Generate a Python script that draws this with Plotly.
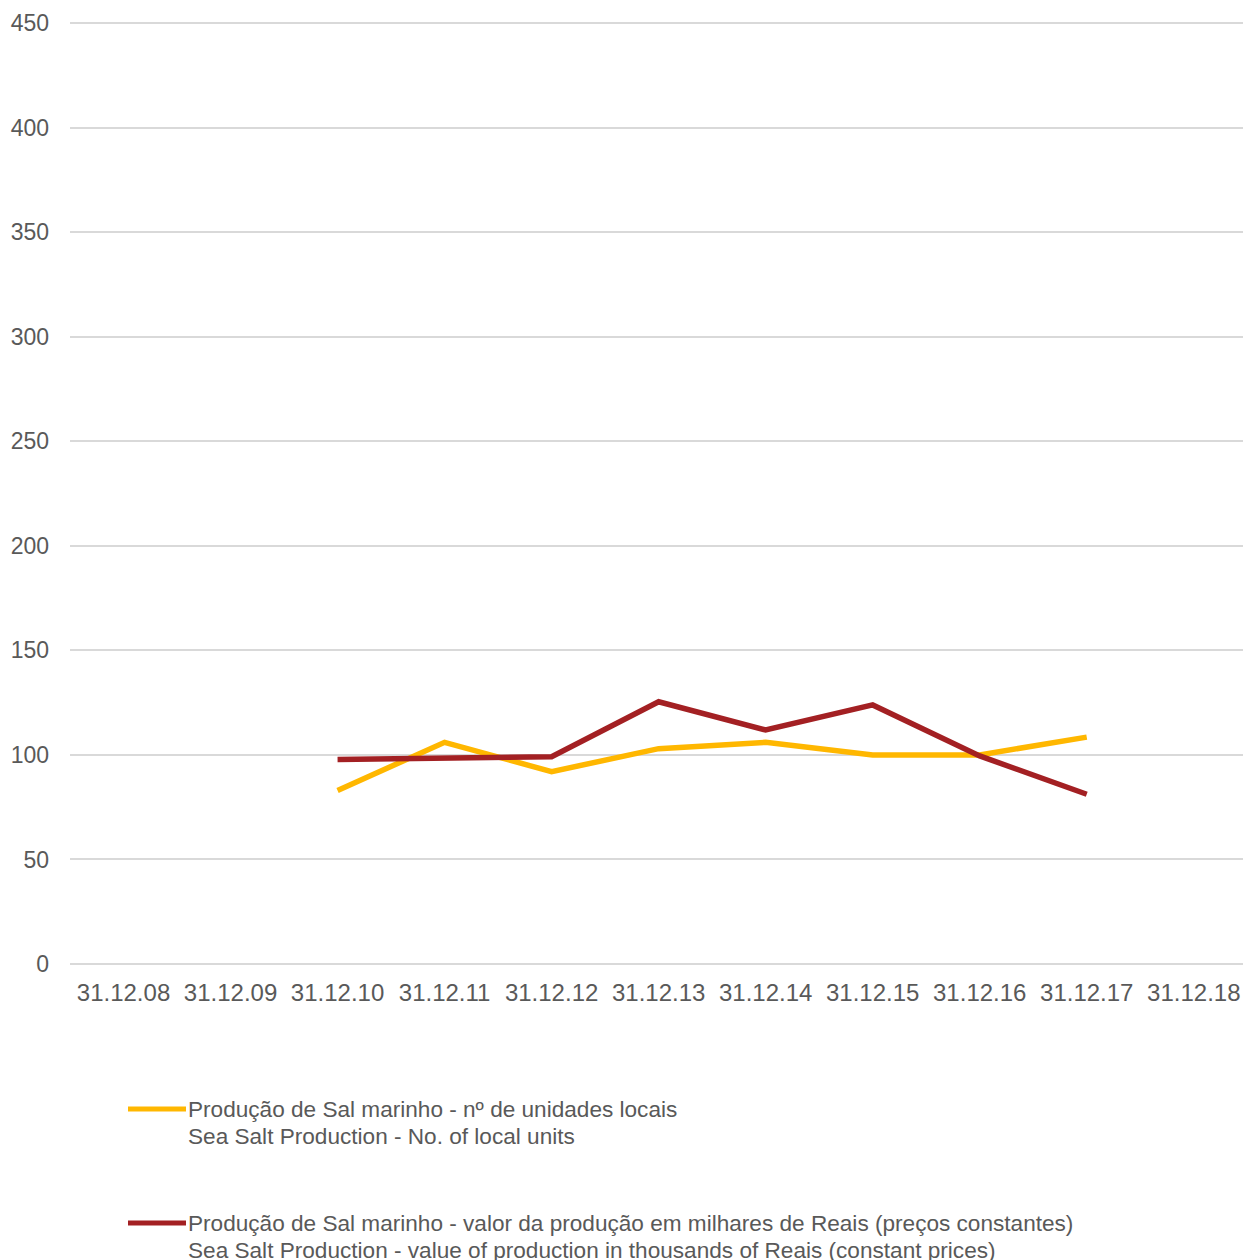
import plotly.graph_objects as go

categories = ["31.12.08", "31.12.09", "31.12.10", "31.12.11", "31.12.12", "31.12.13",
              "31.12.14", "31.12.15", "31.12.16", "31.12.17", "31.12.18"]
units = [None, None, 83, 106, 92, 103, 106, 100, 100, 108.5, None]
value = [None, None, 97.8, 98.2, 99.1, 125.4, 111.9, 123.9, 99.5, 81.2, None]
y_ticks = [0, 50, 100, 150, 200, 250, 300, 350, 400, 450]

names = [
    ["Produção de Sal marinho - nº de unidades locais", "Sea Salt Production - No. of local units"],
    ["Produção de Sal marinho - valor da produção em milhares de Reais (preços constantes)",
     "Sea Salt Production - value of production in thousands of Reais (constant prices)"],
]
colors = ["#FFB700", "#A32023"]
FONT = "Liberation Sans, Arial, sans-serif"
TXT = "#595959"

fig = go.Figure()
for ys, nm, c in zip([units, value], names, colors):
    fig.add_trace(go.Scatter(x=categories, y=ys, mode="lines", name=nm[0],
                             line=dict(color=c, width=5.5), connectgaps=False,
                             showlegend=False))

W, H = 1243, 1260
ml, mt, mb = 70, 21, 296
plot_h = H - mt - mb

shapes = []
annotations = []
legend_y = [1109, 1223]
for i, (nm, c) in enumerate(zip(names, colors)):
    py = legend_y[i]
    yp = (H - mb - py) / plot_h
    shapes.append(dict(type="line", xref="paper", yref="paper",
                       x0=(128 - ml) / (W - ml), x1=(186 - ml) / (W - ml), y0=yp, y1=yp,
                       line=dict(color=c, width=5)))
    for j, t in enumerate(nm):
        yy = (H - mb - (py + 27 * j)) / plot_h
        annotations.append(dict(text=t, xref="paper", yref="paper",
                                x=(186 - ml) / (W - ml), y=yy, xanchor="left", yanchor="middle",
                                showarrow=False, font=dict(family=FONT, size=22.6, color=TXT)))

fig.update_layout(
    width=W, height=H,
    margin=dict(l=ml, r=0, t=mt, b=mb),
    paper_bgcolor="white", plot_bgcolor="white",
    font=dict(family=FONT, size=23, color=TXT),
    shapes=shapes, annotations=annotations,
    xaxis=dict(type="category", range=[-0.5, 10.46], showgrid=False, zeroline=False,
               showline=False, ticks="", tickfont=dict(size=24, color=TXT),
               ticklabelstandoff=12),
    yaxis=dict(range=[0, 451], tickvals=y_ticks, showgrid=True, gridcolor="#d9d9d9",
               gridwidth=1.5, zeroline=True, zerolinecolor="#d9d9d9", zerolinewidth=1.5,
               showline=False, ticks="", tickfont=dict(size=23, color=TXT),
               ticklabelstandoff=20),
)

fig.write_html("out.html")
